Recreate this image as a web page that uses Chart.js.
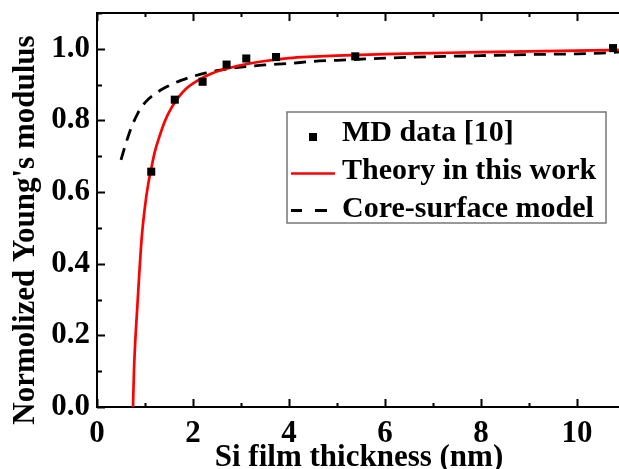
<!DOCTYPE html>
<html>
<head>
<meta charset="utf-8">
<script src="https://cdn.jsdelivr.net/npm/chart.js@4/dist/chart.umd.min.js"></script>
<style>
  html, body { margin: 0; padding: 0; background: #fff; overflow: hidden; }
  #wrap { width: 619px; height: 469px; overflow: hidden; }
</style>
</head>
<body>
<div id="wrap"><canvas id="c" width="640" height="469"></canvas></div>
<script>
// MD data [10]
const thicknessMD = [1.13, 1.62, 2.20, 2.70, 3.11, 3.73, 5.38, 10.75];
const modulusMD = [0.657, 0.858, 0.908, 0.956, 0.973, 0.977, 0.979, 1.002];

// Theory in this work
const thicknessTheory = [0.75, 0.77, 0.80, 0.84, 0.88, 0.93, 1.00, 1.07, 1.13, 1.20, 1.30, 1.42, 1.55, 1.70, 1.85, 2.05, 2.40, 2.80, 3.10, 3.50, 4.00, 4.50, 5.00, 6.00, 7.00, 8.00, 9.00, 10.00, 11.00];
const modulusTheory = [0, 0.10, 0.19, 0.28, 0.37, 0.47, 0.56, 0.625, 0.665, 0.71, 0.755, 0.80, 0.835, 0.865, 0.888, 0.908, 0.932, 0.948, 0.957, 0.966, 0.974, 0.978, 0.981, 0.985, 0.988, 0.991, 0.993, 0.995, 0.997];

// Core-surface model
const thicknessCore = [0.50, 0.60, 0.70, 0.85, 1.00, 1.25, 1.50, 1.75, 2.00, 2.25, 2.50, 3.00, 3.50, 4.00, 4.50, 5.00, 6.00, 7.00, 8.00, 9.00, 10.00, 10.50, 11.00];
const modulusCore = [0.69, 0.735, 0.775, 0.82, 0.85, 0.878, 0.897, 0.912, 0.923, 0.932, 0.939, 0.949, 0.955, 0.959, 0.965, 0.968, 0.974, 0.978, 0.981, 0.984, 0.986, 0.988, 0.992];

const xTicks = [0, 2, 4, 6, 8, 10];
const yTicks = [0.0, 0.2, 0.4, 0.6, 0.8, 1.0];

const legendLabels = ['MD data [10]', 'Theory in this work', 'Core-surface model'];
const xTitle = 'Si film thickness (nm)';
const yTitle = "Normolized Young's modulus";

const FONT = 'Liberation Serif, Times New Roman, serif';

function pairs(xs, ys) {
  return xs.map(function(x, i) { return { x: x, y: ys[i] }; });
}

// inward ticks, top spine, axis titles and the boxed legend
const decorPlugin = {
  id: 'decor',
  afterDraw(chart) {
    const ctx = chart.ctx;
    const a = chart.chartArea;
    const xs = chart.scales.x, ys = chart.scales.y;
    ctx.save();
    ctx.strokeStyle = '#000';
    ctx.lineWidth = 2;
    ctx.beginPath();
    ctx.moveTo(a.left - 1, a.top);
    ctx.lineTo(a.right, a.top);
    ctx.stroke();

    ctx.beginPath();
    for (let v = 0; v <= 11; v += 1) {
      const px = Math.round(xs.getPixelForValue(v)) + 0.5;
      const len = v % 2 === 0 ? 8 : 4;
      ctx.moveTo(px, a.bottom); ctx.lineTo(px, a.bottom - len);
      ctx.moveTo(px, a.top); ctx.lineTo(px, a.top + len);
    }
    for (let k = 0; k <= 11; k++) {
      const py = Math.round(ys.getPixelForValue(k / 10)) + 0.5;
      const len = k % 2 === 0 ? 8 : 5;
      ctx.moveTo(a.left, py); ctx.lineTo(a.left + len, py);
    }
    ctx.stroke();

    // axis titles
    ctx.fillStyle = '#000';
    ctx.font = 'bold 31px ' + FONT;
    ctx.textAlign = 'center';
    ctx.textBaseline = 'alphabetic';
    ctx.fillText(xTitle, 359, 466);
    ctx.save();
    ctx.translate(34, 230);
    ctx.rotate(-Math.PI / 2);
    ctx.fillText(yTitle, 0, 0);
    ctx.restore();

    // legend
    const bx = 287, by = 112, bw = 319, bh = 111;
    ctx.fillStyle = '#fff';
    ctx.fillRect(bx, by, bw, bh);
    ctx.strokeStyle = '#777';
    ctx.lineWidth = 1.5;
    ctx.strokeRect(bx, by, bw, bh);
    const ds = chart.data.datasets;
    const rows = [141, 179, 217];
    ctx.fillStyle = ds[0].backgroundColor;
    ctx.fillRect(309, 133, 8, 8);
    ctx.strokeStyle = ds[1].borderColor;
    ctx.lineWidth = ds[1].borderWidth;
    ctx.beginPath(); ctx.moveTo(291, 173.5); ctx.lineTo(335, 173.5); ctx.stroke();
    ctx.strokeStyle = ds[2].borderColor;
    ctx.lineWidth = ds[2].borderWidth;
    ctx.beginPath();
    ctx.moveTo(291, 210.5); ctx.lineTo(302, 210.5);
    ctx.moveTo(315, 210.5); ctx.lineTo(327, 210.5);
    ctx.stroke();
    ctx.fillStyle = '#000';
    ctx.font = 'bold 30px ' + FONT;
    ctx.textAlign = 'left';
    legendLabels.forEach(function(t, i) { ctx.fillText(t, 342, rows[i]); });
    ctx.restore();
  }
};

new Chart(document.getElementById('c'), {
  type: 'line',
  data: {
    datasets: [{
      label: legendLabels[0],
      data: pairs(thicknessMD, modulusMD),
      showLine: false,
      pointStyle: 'rect',
      pointRadius: 5.7,
      backgroundColor: '#000',
      borderColor: '#000',
      borderWidth: 0
    }, {
      label: legendLabels[1],
      data: pairs(thicknessTheory, modulusTheory),
      borderColor: '#ff0000',
      borderWidth: 2.7,
      pointRadius: 0,
      cubicInterpolationMode: 'monotone'
    }, {
      label: legendLabels[2],
      data: pairs(thicknessCore, modulusCore),
      borderColor: '#000',
      borderWidth: 2.8,
      borderDash: [12, 8],
      pointRadius: 0,
      cubicInterpolationMode: 'monotone'
    }]
  },
  options: {
    responsive: false,
    animation: false,
    layout: { padding: { left: 0, top: 13, right: 15, bottom: 0 } },
    plugins: { legend: { display: false }, tooltip: { enabled: false } },
    scales: {
      x: {
        type: 'linear', min: 0, max: 11,
        afterFit: function(s) { s.height = 62; s.paddingLeft = 0; s.paddingRight = 0; },
        afterBuildTicks: function(s) { s.ticks = xTicks.map(function(v) { return { value: v }; }); },
        grid: { drawOnChartArea: false, drawTicks: false },
        border: { display: true, color: '#000', width: 2 },
        ticks: { color: '#000', padding: 8, font: { family: FONT, size: 31, weight: 'bold' } }
      },
      y: {
        type: 'linear', min: 0, max: 1.1,
        afterFit: function(s) { s.width = 97; s.paddingTop = 0; s.paddingBottom = 0; },
        afterBuildTicks: function(s) { s.ticks = yTicks.map(function(v) { return { value: v }; }); },
        grid: { drawOnChartArea: false, drawTicks: false },
        border: { display: true, color: '#000', width: 2 },
        ticks: {
          color: '#000', padding: 7,
          font: { family: FONT, size: 31, weight: 'bold' },
          callback: function(v) { return v.toFixed(1); }
        }
      }
    }
  },
  plugins: [decorPlugin]
});
</script>
</body>
</html>
